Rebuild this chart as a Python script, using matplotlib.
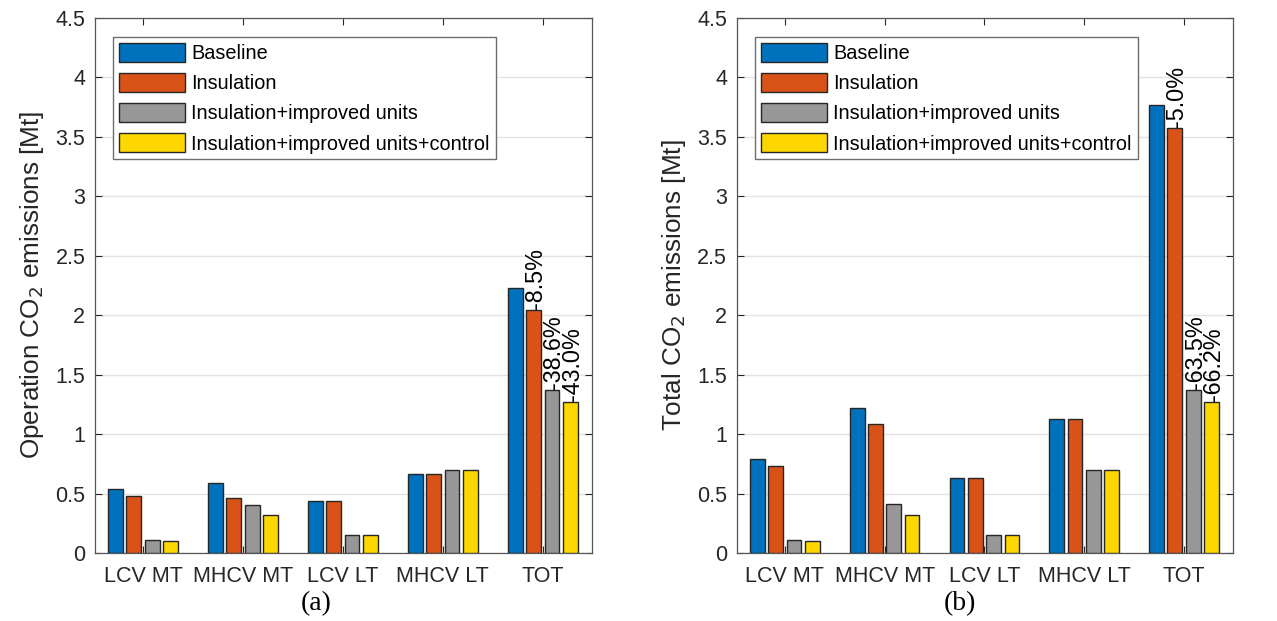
import matplotlib.pyplot as plt
import numpy as np

plt.rcParams["font.family"] = ["Liberation Sans", "DejaVu Sans"]

categories = ["LCV MT", "MHCV MT", "LCV LT", "MHCV LT", "TOT"]
series_names = ["Baseline", "Insulation", "Insulation+improved units",
                "Insulation+improved units+control"]
colors = ["#0072BD", "#D95319", "#979797", "#FFD700"]

# (a) operation emissions [Mt]
op_baseline = [0.54, 0.59, 0.44, 0.66, 2.23]
op_insulation = [0.477, 0.46, 0.44, 0.66, 2.04]
op_units = [0.11, 0.40, 0.15, 0.70, 1.37]
op_control = [0.10, 0.317, 0.15, 0.70, 1.27]
op_labels = ["-8.5%", "-38.6%", "-43.0%"]

# (b) total emissions [Mt]
tot_baseline = [0.79, 1.215, 0.63, 1.127, 3.765]
tot_insulation = [0.73, 1.08, 0.63, 1.127, 3.57]
tot_units = [0.11, 0.41, 0.15, 0.70, 1.37]
tot_control = [0.10, 0.32, 0.15, 0.70, 1.27]
tot_labels = ["-5.0%", "-63.5%", "-66.2%"]

yticks = [0, 0.5, 1, 1.5, 2, 2.5, 3, 3.5, 4, 4.5]
ytick_labels = ["0", "0.5", "1", "1.5", "2", "2.5", "3", "3.5", "4", "4.5"]

fig = plt.figure(figsize=(12.77, 6.21), dpi=100)
ax_a = fig.add_axes([0.0744, 0.1095, 0.389, 0.8623])
ax_b = fig.add_axes([0.5771, 0.1095, 0.3884, 0.8623])


def draw_panel(ax, data, labels, ylabel):
    x = np.arange(1, len(categories) + 1)
    offsets = [-0.275, -0.092, 0.092, 0.275]
    width = 0.148
    for vals, off, col, name in zip(data, offsets, colors, series_names):
        ax.bar(x + off, vals, width, color=col, edgecolor="#262626",
               linewidth=1.0, label=name, zorder=3)
    # percent changes on TOT group (insulation, units, control)
    for k, txt in enumerate(labels):
        val = data[k + 1][-1]
        ax.text(x[-1] + offsets[k + 1] + 0.02, val + 0.01, txt, rotation=90,
                ha="center", va="bottom", fontsize=16.8, color="black",
                zorder=4)
    ax.set_xlim(0.52, 5.49)
    ax.set_ylim(0, 4.5)
    ax.set_xticks(x)
    ax.set_xticklabels(categories)
    ax.set_yticks(yticks)
    ax.set_yticklabels(ytick_labels)
    ax.tick_params(direction="in", length=5, labelsize=15.5, colors="#262626",
                   top=True, right=True, width=0.8)
    ax.tick_params(axis="x", pad=9.5)
    ax.tick_params(axis="y", pad=7)
    ax.grid(axis="y", color="#e3e3e3", linewidth=1.0, zorder=0)
    ax.set_axisbelow(True)
    for sp in ax.spines.values():
        sp.set_color("#555555")
        sp.set_linewidth(0.9)
    ax.set_ylabel(ylabel, fontsize=18.8, color="#262626", labelpad=7)
    leg = ax.legend(loc="upper left", bbox_to_anchor=(0.036, 0.963),
                    fontsize=14.3, handlelength=3.35, handleheight=1.07,
                    handletextpad=0.3, labelspacing=0.5, borderpad=0.3,
                    borderaxespad=0, fancybox=False, framealpha=1)
    leg.get_frame().set_edgecolor("#6e6e6e")
    leg.get_frame().set_linewidth(1.0)


draw_panel(ax_a, [op_baseline, op_insulation, op_units, op_control],
           op_labels, "Operation CO$_2$ emissions [Mt]")
draw_panel(ax_b, [tot_baseline, tot_insulation, tot_units, tot_control],
           tot_labels, "Total CO$_2$ emissions [Mt]")

fig.text(0.2475, 0.028, "(a)", ha="center", va="center", fontsize=20,
         family="Liberation Serif")
fig.text(0.7514, 0.028, "(b)", ha="center", va="center", fontsize=20,
         family="Liberation Serif")

fig.savefig("out.png", dpi=100)
